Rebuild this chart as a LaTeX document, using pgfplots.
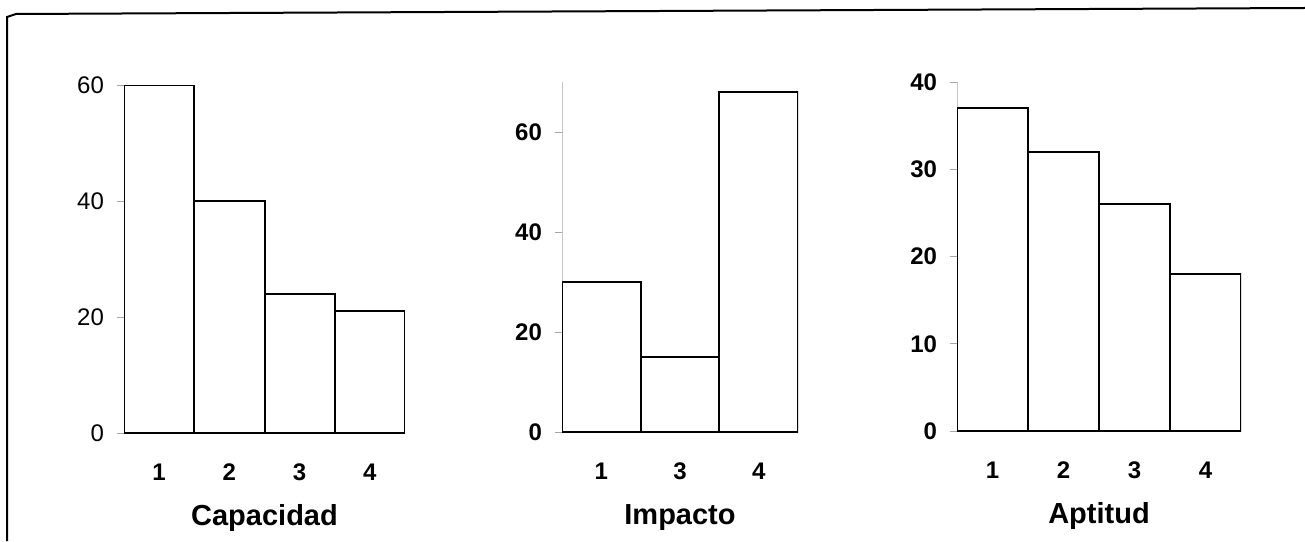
\documentclass[border=0pt]{standalone}
\usepackage{fontspec}
\setmainfont{Liberation Sans}
\usepackage{pgfplots}
\pgfplotsset{compat=1.18}
\pgfplotsset{
  panel/.style={
    scale only axis, ybar, bar width=1, ymin=0, enlargelimits=false,
    axis x line*=bottom, axis y line*=left,
    xtick=data, xtick style={draw=none},
    ytick style={draw=gray!70, thin}, tick align=outside, major tick length=3.5pt,
    y axis line style={draw=gray!45, thin},
    x axis line style={draw=black, line width=1pt},
    /pgf/number format/assume math mode=true,
    yticklabel style={font=\fontsize{12}{14}\selectfont, xshift=-3pt},
    xticklabel style={font=\bfseries\fontsize{12}{14}\selectfont, anchor=base, yshift=-20pt},
    xlabel style={font=\bfseries\fontsize{14.5}{17}\selectfont, at={(axis description cs:0.5,0)}, anchor=base, yshift=-46pt},
  },
  bars/.style={fill=white, draw=black, line width=1pt},
}
\begin{document}
\begin{tikzpicture}[x=0.5pt,y=0.5pt]
\useasboundingbox (0,0) rectangle (1305,541);
\draw[line width=1pt] (7,0) -- (7,524) -- (16,527) -- (1305,533);

\begin{axis}[panel, at={(62pt,54pt)}, anchor=south west,
  width=140.5pt, height=174pt, xmin=0.5, xmax=4.5, ymax=60,
  ytick={0,20,40,60}, xticklabels={1,2,3,4}, xlabel={Capacidad}]
\addplot[bars] coordinates {(1,60) (2,40) (3,24) (4,21)};
\end{axis}

\begin{axis}[panel, at={(281pt,54.5pt)}, anchor=south west,
  width=118pt, height=175pt, xmin=0.5, xmax=3.5, ymax=70,
  ytick={0,20,40,60}, xticklabels={1,3,4}, xlabel={Impacto},
  yticklabel style={font=\bfseries\fontsize{12}{14}\selectfont}]
\addplot[bars] coordinates {(1,30) (2,15) (3,68)};
\end{axis}

\begin{axis}[panel, at={(478.5pt,55pt)}, anchor=south west,
  width=142pt, height=174.5pt, xmin=0.5, xmax=4.5, ymax=40,
  ytick={0,10,20,30,40}, xticklabels={1,2,3,4}, xlabel={Aptitud},
  yticklabel style={font=\bfseries\fontsize{12}{14}\selectfont}]
\addplot[bars] coordinates {(1,37) (2,32) (3,26) (4,18)};
\end{axis}
\end{tikzpicture}
\end{document}
